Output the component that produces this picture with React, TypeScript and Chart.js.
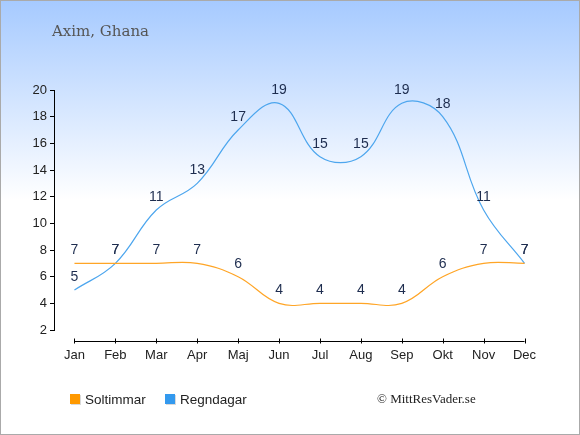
import { useRef, useEffect } from 'react';
import { Chart, registerables } from 'chart.js';
import type { Plugin } from 'chart.js';

Chart.register(...registerables);

const months = ['Jan', 'Feb', 'Mar', 'Apr', 'Maj', 'Jun', 'Jul', 'Aug', 'Sep', 'Okt', 'Nov', 'Dec'];
const soltimmar = [7, 7, 7, 7, 6, 4, 4, 4, 4, 6, 7, 7];
const regndagar = [5, 7, 11, 13, 17, 19, 15, 15, 19, 18, 11, 7];
const yTicks = [2, 4, 6, 8, 10, 12, 14, 16, 18, 20];

const ORANGE = '#ff9900';
const BLUE = '#3399ee';

// x axis only spans Jan..Dec, slightly below the plot
const xAxisLine: Plugin = {
  id: 'xAxisLine',
  afterDraw(chart) {
    const { ctx, chartArea } = chart;
    const x = chart.scales.x;
    const y = Math.round(chartArea.bottom + 11) + 0.5;
    const x0 = x.getPixelForValue(0);
    const x1 = x.getPixelForValue(months.length - 1);
    ctx.save();
    ctx.strokeStyle = '#000';
    ctx.lineWidth = 1;
    ctx.beginPath();
    ctx.moveTo(x0, y);
    ctx.lineTo(x1, y);
    months.forEach((_, i) => {
      const px = Math.round(x.getPixelForValue(i)) + 0.5;
      ctx.moveTo(px, y - 3);
      ctx.lineTo(px, y + 2);
    });
    ctx.stroke();
    ctx.restore();
  },
};

const valueLabels: Plugin = {
  id: 'valueLabels',
  afterDatasetsDraw(chart) {
    const { ctx } = chart;
    ctx.save();
    ctx.font = '14px "Liberation Sans", Arial, sans-serif';
    ctx.fillStyle = '#1e2d4f';
    ctx.textAlign = 'center';
    ctx.textBaseline = 'middle';
    chart.data.datasets.forEach((ds, di) => {
      const meta = chart.getDatasetMeta(di);
      meta.data.forEach((pt, i) => {
        ctx.fillText(String(ds.data[i]), pt.x, pt.y - 13);
      });
    });
    ctx.restore();
  },
};

const App = () => {
  const canvasRef = useRef<HTMLCanvasElement | null>(null);

  useEffect(() => {
    const canvas = canvasRef.current;
    if (!canvas) return;

    const chart = new Chart(canvas, {
      type: 'line',
      data: {
        labels: months,
        datasets: [
          {
            label: 'Soltimmar',
            data: soltimmar,
            borderColor: '#ffa526',
            borderWidth: 1.2,
            tension: 0.4,
            pointRadius: 0,
            fill: false,
          },
          {
            label: 'Regndagar',
            data: regndagar,
            borderColor: '#4da6ee',
            borderWidth: 1.2,
            tension: 0.4,
            pointRadius: 0,
            fill: false,
          },
        ],
      },
      options: {
        responsive: false,
        animation: false,
        layout: { padding: { left: 23, right: 34, top: 89, bottom: 54 } },
        plugins: {
          legend: { display: false },
          tooltip: { enabled: false },
        },
        scales: {
          x: {
            offset: true,
            grid: { display: false, drawTicks: false },
            border: { display: false },
            ticks: {
              padding: 18,
              color: '#222',
              font: { family: '"Liberation Sans", Arial, sans-serif', size: 13 },
            },
            afterFit: (s) => { s.height = 50; },
          },
          y: {
            min: 2,
            max: 20,
            afterBuildTicks: (s) => { s.ticks = yTicks.map((v) => ({ value: v })); },
            grid: { drawOnChartArea: false, tickLength: 4, color: '#000' },
            border: { display: true, color: '#000' },
            ticks: {
              padding: 3,
              color: '#222',
              font: { family: '"Liberation Sans", Arial, sans-serif', size: 13 },
            },
            afterFit: (s) => { s.width = 30; },
          },
        },
      },
      plugins: [xAxisLine, valueLabels],
    });

    return () => {
      chart.destroy();
    };
  }, []);

  const legendText = {
    position: 'absolute' as const,
    top: 390,
    fontFamily: '"Liberation Sans", Arial, sans-serif',
    fontSize: 13.5,
    lineHeight: '18px',
    color: '#222',
  };
  const square = (left: number, color: string) => ({
    position: 'absolute' as const,
    left,
    top: 393,
    width: 10,
    height: 10,
    background: color,
    boxShadow: '1px 1px 0 rgba(0,0,0,0.15)',
  });

  return (
    <div
      style={{
        position: 'absolute',
        top: 0,
        left: 0,
        width: 580,
        height: 435,
        boxSizing: 'border-box',
        border: '1px solid #aaa',
        background: 'linear-gradient(to bottom, #a6caff 0%, #ffffff 46%, #ffffff 100%)',
        overflow: 'hidden',
      }}
    >
      <canvas ref={canvasRef} width={578} height={433} style={{ position: 'absolute', left: 0, top: 0, width: 578, height: 433 }} />
      <div
        style={{
          position: 'absolute',
          left: 51,
          top: 21,
          fontFamily: '"DejaVu Serif", serif',
          fontSize: 15,
          color: '#555',
          whiteSpace: 'nowrap',
        }}
      >
        Axim, Ghana
      </div>
      <div style={square(69, ORANGE)} />
      <div style={{ ...legendText, left: 84 }}>Soltimmar</div>
      <div style={square(164, BLUE)} />
      <div style={{ ...legendText, left: 179 }}>Regndagar</div>
      <div
        style={{
          position: 'absolute',
          left: 376,
          top: 389,
          fontFamily: '"Liberation Serif", "Times New Roman", serif',
          fontSize: 13,
          lineHeight: '18px',
          color: '#222',
          whiteSpace: 'nowrap',
        }}
      >
        © MittResVader.se
      </div>
    </div>
  );
};

export default App;
